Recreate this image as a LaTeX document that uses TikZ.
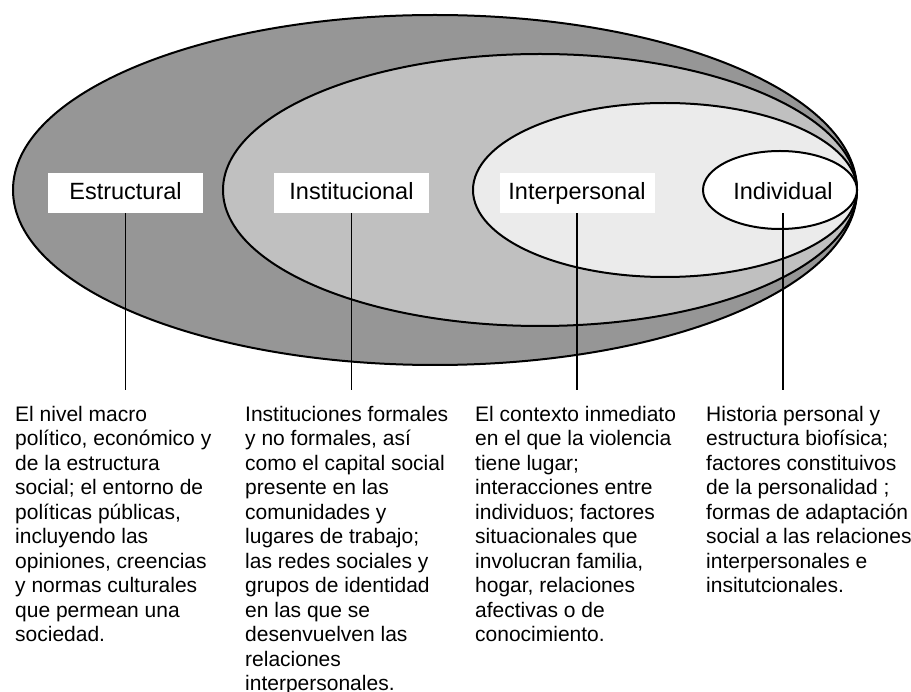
\documentclass[tikz,border=0pt]{standalone}
\usepackage{fontspec}
\setmainfont{Liberation Sans}
\definecolor{lvA}{RGB}{150,150,150}
\definecolor{lvB}{RGB}{192,192,192}
\definecolor{lvC}{RGB}{235,235,235}
\tikzset{
  ring/.style={draw=black, line width=2pt},
  lbl/.style={fill=white, minimum width=155pt, minimum height=40pt, inner sep=0pt,
    font=\fontsize{23.5}{28}\selectfont, text height=16.8pt, text depth=4.2pt},
  lblnofill/.style={lbl, fill=none},
  desc/.style={anchor=base west, align=left, inner sep=0pt,
    font=\fontsize{21}{24.5}\selectfont},
  link/.style={draw=black, line width=1.3pt}
}
\begin{document}
\begin{tikzpicture}[x=1pt,y=-1pt]
\useasboundingbox (0,0) rectangle (911,692);
\fill[white] (0,0) rectangle (911,692);
% nested ellipses
\filldraw[ring, fill=lvA] (435,190) ellipse [x radius=422, y radius=175];
\filldraw[ring, fill=lvB] (540,190) ellipse [x radius=317, y radius=136];
\filldraw[ring, fill=lvC] (665,190) ellipse [x radius=192, y radius=87];
\filldraw[ring, fill=white] (780,190) ellipse [x radius=77, y radius=39];
% labels
\node[lbl] (estr) at (125.5,193) {Estructural};
\node[lbl] (inst) at (351.5,193) {Institucional};
\node[lbl] (inter) at (577,193) {Interpersonal};
\node[lblnofill] (indiv) at (783,193) {Individual};
% free ends
\coordinate (e1) at (125.5,390);
\coordinate (e2) at (351.5,390);
\coordinate (e3) at (577,390);
\coordinate (e4) at (783,390);
\draw[link] (estr.south) -- (e1);
\draw[link] (inst.south) -- (e2);
\draw[link] (inter.south) -- (e3);
\draw[link] (indiv.south) -- (e4);
% descriptions (anchored at the baseline of the last line)
\node[desc] (d1) at (15,641.5) {El nivel macro\\político, económico y\\de la estructura\\social; el entorno de\\políticas públicas,\\incluyendo las\\opiniones, creencias\\y normas culturales\\que permean una\\sociedad.};
\node[desc] (d2) at (245,690.5) {Instituciones formales\\y no formales, así\\como el capital social\\presente en las\\comunidades y\\lugares de trabajo;\\las redes sociales y\\grupos de identidad\\en las que se\\desenvuelven las\\relaciones\\interpersonales.};
\node[desc] (d3) at (475,641.5) {El contexto inmediato\\en el que la violencia\\tiene lugar;\\interacciones entre\\individuos; factores\\situacionales que\\involucran familia,\\hogar, relaciones\\afectivas o de\\conocimiento.};
\node[desc] (d4) at (706,592.5) {Historia personal y\\estructura biofísica;\\factores constituivos\\de la personalidad ;\\formas de adaptación\\social a las relaciones\\interpersonales e\\insitutcionales.};
\end{tikzpicture}
\end{document}
